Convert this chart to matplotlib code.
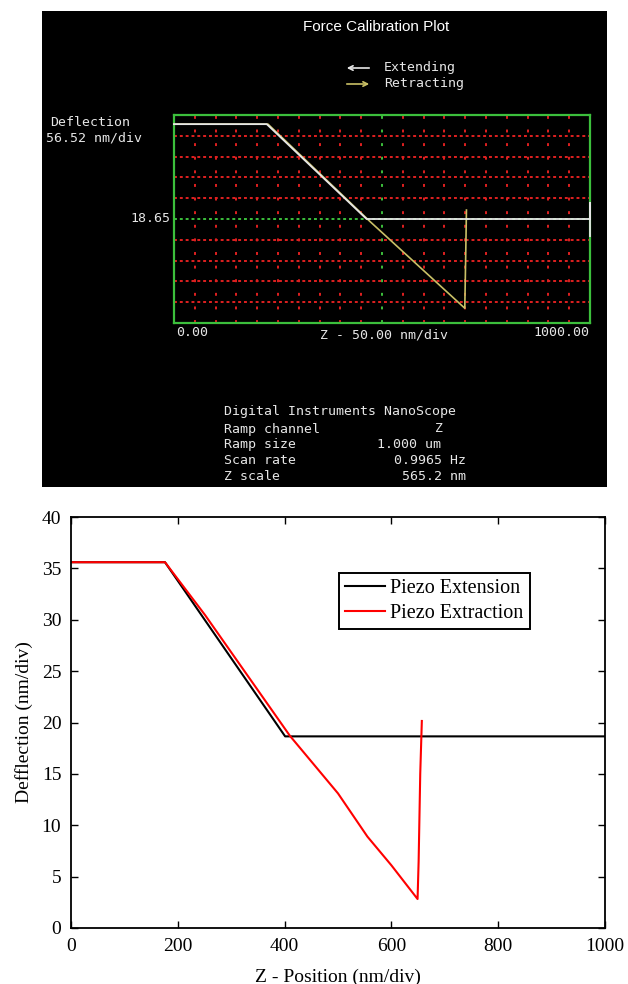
import matplotlib
matplotlib.use("Agg")
import matplotlib.pyplot as plt
import matplotlib.patches as mpatches
import numpy as np

# ---------------- data ----------------
# Top panel (NanoScope screenshot): x in nm (0..1000), y in divisions (0..10)
ext_top_x = [0, 223, 463, 1000, 1000, 1000]
ext_top_y = [9.56, 9.56, 5.0, 5.0, 5.77, 4.18]
ret_top_x = [0, 226, 470, 699, 701, 703]
ret_top_y = [9.56, 9.56, 4.9, 0.71, 3.0, 5.43]

# Bottom panel: Z position (nm) vs deflection
ext_x = [0, 176, 401, 1000]
ext_y = [35.6, 35.6, 18.65, 18.65]
ret_x = [0, 176, 251, 410, 500, 555, 600, 649, 651, 654, 657]
ret_y = [35.6, 35.6, 30.46, 18.7, 13.1, 8.9, 6.1, 2.82, 6.5, 15.0, 20.15]

x_ticks = [0, 200, 400, 600, 800, 1000]
y_ticks = [0, 5, 10, 15, 20, 25, 30, 35, 40]

info_labels = ["Ramp channel", "Ramp size", "Scan rate", "Z scale"]
info_values = ["Z", "1.000 um", "0.9965 Hz", "565.2 nm"]

W, H = 628, 984
fig = plt.figure(figsize=(W / 100, H / 100), dpi=100)
fig.patch.set_facecolor("white")


def fx(px):
    return px / W


def fy(py):
    return 1 - py / H


# ---------------- top panel ----------------
bg = fig.add_axes([fx(42), fy(487), fx(565), 476 / H])
bg.set_facecolor("black")
bg.set_xticks([])
bg.set_yticks([])
for s in bg.spines.values():
    s.set_visible(False)

GREEN = "#3cbf3c"
RED = "#e02020"
WHITE = "#e6e6e6"
YEL = "#c9c066"

top = fig.add_axes([fx(174), fy(323), 416 / W, 208 / H])
top.set_facecolor("black")
top.set_xlim(0, 1000)
top.set_ylim(0, 10)
for s in top.spines.values():
    s.set_color(GREEN)
    s.set_linewidth(1.6)
top.set_xticks([])
top.set_yticks([])
for v in np.arange(50, 1000, 50):
    c = GREEN if v == 500 else RED
    top.axvline(v, color=c, lw=1.4, ls=(0, (1.5, 5.5)), zorder=1)
for h in np.arange(1, 10, 1):
    c = GREEN if h == 5 else RED
    top.axhline(h, color=c, lw=1.4, ls=(0, (1.5, 1.5)), zorder=1)

top.plot(ret_top_x, ret_top_y, color=YEL, lw=1.2, zorder=3, clip_on=False)
top.plot(ext_top_x, ext_top_y, color=WHITE, lw=1.3, zorder=4, clip_on=False)

mono = "DejaVu Sans Mono"
fig.text(fx(376), fy(27), "Force Calibration Plot", color="white",
         family="Liberation Sans", fontsize=11, ha="center", va="center")

fig.patches.append(mpatches.FancyArrowPatch(
    (fx(372), fy(68)), (fx(344), fy(68)), transform=fig.transFigure,
    arrowstyle="->", mutation_scale=8, color=WHITE, lw=1.2))
fig.patches.append(mpatches.FancyArrowPatch(
    (fx(344), fy(84)), (fx(372), fy(84)), transform=fig.transFigure,
    arrowstyle="->", mutation_scale=8, color=YEL, lw=1.2))
fig.text(fx(384), fy(68), "Extending", color=WHITE, family=mono,
         fontsize=9.5, ha="left", va="center")
fig.text(fx(384), fy(84), "Retracting", color=WHITE, family=mono,
         fontsize=9.5, ha="left", va="center")

fig.text(fx(50), fy(122), "Deflection", color=WHITE, family=mono,
         fontsize=9.5, ha="left", va="center")
fig.text(fx(46), fy(138), "56.52 nm/div", color=WHITE, family=mono,
         fontsize=9.5, ha="left", va="center")
fig.text(fx(170), fy(219), "18.65", color=WHITE, family=mono,
         fontsize=9.5, ha="right", va="center")
fig.text(fx(176), fy(332), "0.00", color=WHITE, family=mono,
         fontsize=9.5, ha="left", va="center")
fig.text(fx(384), fy(335), "Z - 50.00 nm/div", color=WHITE, family=mono,
         fontsize=9.5, ha="center", va="center")
fig.text(fx(589), fy(332), "1000.00", color=WHITE, family=mono,
         fontsize=9.5, ha="right", va="center")

fig.text(fx(224), fy(412), "Digital Instruments NanoScope", color=WHITE,
         family=mono, fontsize=9.5, ha="left", va="center")
rows_y = [429, 445, 461, 477]
val_x = [435, 377, 394, 402]
for lab, val, ry, vx in zip(info_labels, info_values, rows_y, val_x):
    fig.text(fx(224), fy(ry), lab, color=WHITE, family=mono, fontsize=9.5,
             ha="left", va="center")
    fig.text(fx(vx), fy(ry), val, color=WHITE, family=mono, fontsize=9.5,
             ha="left", va="center")

# ---------------- bottom panel ----------------
serif = "Liberation Serif"
ax = fig.add_axes([fx(71), fy(928), 534 / W, 411 / H])
ax.plot(ext_x, ext_y, color="black", lw=1.5, label="Piezo Extension")
ax.plot(ret_x, ret_y, color="red", lw=1.5, label="Piezo Extraction")
ax.set_xlim(0, 1000)
ax.set_ylim(0, 40)
ax.set_xticks(x_ticks)
ax.set_yticks(y_ticks)
ax.tick_params(direction="in", length=5, width=1, top=True, right=True,
               labelsize=14, pad=7)
for lbl in ax.get_xticklabels() + ax.get_yticklabels():
    lbl.set_family(serif)
for s in ax.spines.values():
    s.set_linewidth(1.3)
ax.set_xlabel("Z - Position (nm/div)", family=serif, fontsize=14, labelpad=10)
ax.set_ylabel("Defflection (nm/div)", family=serif, fontsize=14, labelpad=6)
leg = ax.legend(loc="upper left", bbox_to_anchor=(0.502, 0.864),
                borderaxespad=0, fancybox=False, edgecolor="black",
                framealpha=1, prop={"family": serif, "size": 14.5},
                handlelength=2.0, handletextpad=0.25, borderpad=0.3,
                labelspacing=0.3)
leg.get_frame().set_linewidth(1.4)

fig.savefig("out.png", dpi=100, facecolor="white")
